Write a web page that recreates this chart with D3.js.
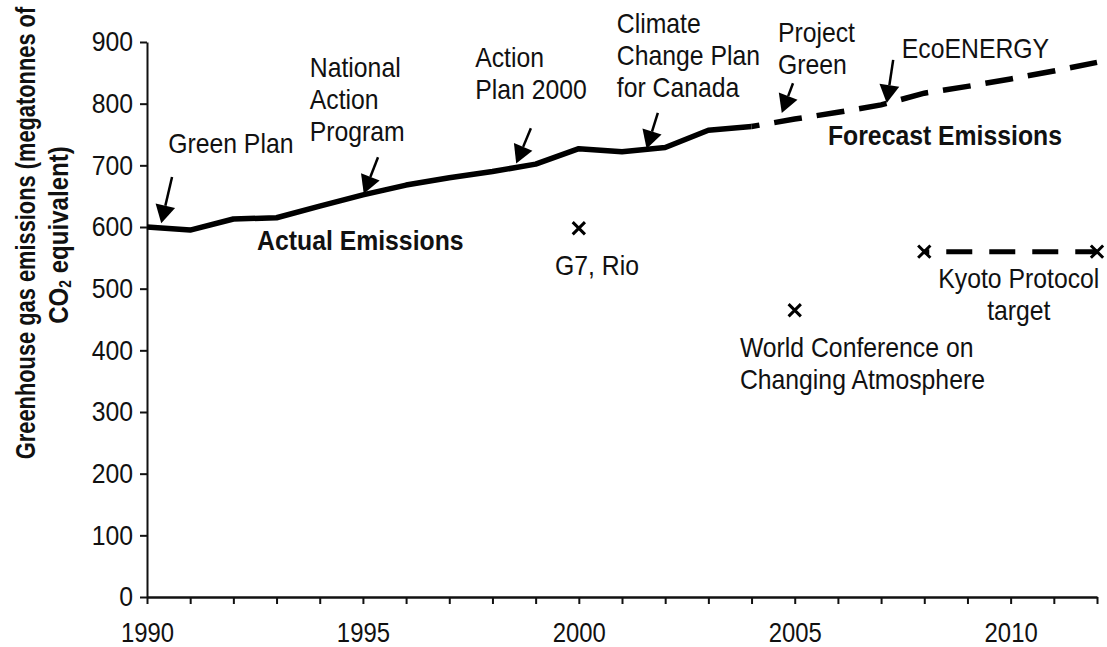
<!DOCTYPE html>
<html>
<head>
<meta charset="utf-8">
<script src="https://cdn.jsdelivr.net/npm/d3@7"></script>
<style>
  html, body { margin: 0; padding: 0; background: #fff; }
  svg { display: block; font-family: "Liberation Sans", Arial, sans-serif; }
</style>
</head>
<body>
<svg id="chart" width="1107" height="647"></svg>
<script>
// ---------- DATA ----------
const actualYears = [1990, 1991, 1992, 1993, 1994, 1995, 1996, 1997, 1998, 1999, 2000, 2001, 2002, 2003, 2004];
const actualValues = [600, 595, 613, 615, 634, 652, 668, 680, 690, 702, 727, 722, 729, 757, 763];

const forecastYears = [2004, 2005, 2006, 2007, 2008, 2009, 2010, 2011, 2012];
const forecastValues = [763, 775, 786, 798, 817, 828, 840, 853, 867];

const kyotoYears = [2008, 2012];
const kyotoValues = [560, 560];

const eventYears = [2000, 2005];
const eventValues = [598, 465];

const yTickValues = [0, 100, 200, 300, 400, 500, 600, 700, 800, 900];
const xTickValues = d3.range(1990, 2013);
const xTickLabels = [1990, 1995, 2000, 2005, 2010];

// arrows: tail and tip in data units [year, value]
const arrowNames = ["Green Plan", "National Action Program", "Action Plan 2000", "Climate Change Plan", "Project Green", "EcoENERGY"];
const arrowTails = [[1990.58, 681], [1995.35, 713], [1998.89, 760], [2001.83, 785], [2004.96, 833], [2007.28, 871]];
const arrowTips  = [[1990.33, 606], [1995.02, 654], [1998.55, 703], [2001.57, 727], [2004.70, 785], [2007.13, 801]];

// text annotations
const noteLines = [
  ["Green Plan"],
  ["National", "Action", "Program"],
  ["Action", "Plan 2000"],
  ["Climate", "Change Plan", "for Canada"],
  ["Project", "Green"],
  ["EcoENERGY"],
  ["Actual Emissions"],
  ["Forecast Emissions"],
  ["G7, Rio"],
  ["World Conference on", "Changing Atmosphere"],
  ["Kyoto Protocol", "target"]
];
const noteYears  = [1990.49, 1993.77, 1997.60, 2000.88, 2004.61, 2007.48, 1992.55, 2005.77, 2000.42, 2003.73, 2010.19];
const noteValues = [736, 859, 876, 931, 916, 890, 579, 749, 538, 405, 517];
const noteAnchor = ["start", "start", "start", "start", "start", "start", "start", "start", "middle", "start", "middle"];
const noteBold   = [false, false, false, false, false, false, true, true, false, false, false];

// ---------- CHART ----------
const FS = 28, SX = 0.885;   // condensed look of the original lettering
const svg = d3.select("#chart");
svg.append("rect").attr("width", 1107).attr("height", 647).attr("fill", "#fff");

const x = d3.scaleLinear().domain([1990, 2012]).range([147, 1097]);
const y = d3.scaleLinear().domain([0, 900]).range([597, 42]);

// Y axis
const yAxis = svg.append("g")
  .attr("transform", `translate(${x(1990)},0)`)
  .call(d3.axisLeft(y).tickValues(yTickValues).tickSize(7).tickSizeOuter(0).tickPadding(7));
yAxis.selectAll("text")
  .attr("font-size", FS).attr("fill", "#111").attr("font-family", "Liberation Sans, Arial, sans-serif")
  .attr("x", 0).attr("transform", `translate(-14,0) scale(${SX},1)`);
yAxis.selectAll("line").attr("stroke", "#111").attr("stroke-width", 2);
yAxis.select(".domain").attr("stroke", "#111").attr("stroke-width", 2);

// X axis
const xAxis = svg.append("g")
  .attr("transform", `translate(0,${y(0)})`)
  .call(d3.axisBottom(x).tickValues(xTickValues).tickSize(7).tickSizeOuter(0).tickPadding(19)
    .tickFormat(d => xTickLabels.includes(d) ? String(d) : ""));
xAxis.selectAll("text")
  .attr("font-size", 27).attr("fill", "#111").attr("font-family", "Liberation Sans, Arial, sans-serif")
  .attr("transform", `scale(${SX},1)`);
xAxis.selectAll("line").attr("stroke", "#111").attr("stroke-width", 2);
xAxis.select(".domain").attr("stroke", "#111").attr("stroke-width", 2.5);

// Y axis title (two lines, rotated)
svg.append("text")
  .attr("transform", `translate(35,233) rotate(-90) scale(0.78,1)`)
  .attr("text-anchor", "middle").attr("font-weight", "bold")
  .attr("font-size", 28).attr("fill", "#111")
  .text("Greenhouse gas emissions (megatonnes of");
const title2 = svg.append("text")
  .attr("transform", `translate(68,235) rotate(-90) scale(0.86,1)`)
  .attr("text-anchor", "middle").attr("font-weight", "bold")
  .attr("font-size", 28).attr("fill", "#111");
title2.append("tspan").text("CO");
title2.append("tspan").attr("font-size", 16).attr("dy", 3).text("2");
title2.append("tspan").attr("dy", -3).text(" equivalent)");

// Lines
const line = d3.line().x(d => x(d[0])).y(d => y(d[1]));
svg.append("path")
  .datum(actualYears.map((yr, i) => [yr, actualValues[i]]))
  .attr("d", line)
  .attr("fill", "none").attr("stroke", "#000").attr("stroke-width", 5.5)
  .attr("stroke-linejoin", "round");

svg.append("path")
  .datum(forecastYears.map((yr, i) => [yr, forecastValues[i]]))
  .attr("d", line)
  .attr("fill", "none").attr("stroke", "#000").attr("stroke-width", 5.5)
  .attr("stroke-dasharray", "28,15").attr("stroke-dashoffset", 20);

svg.append("path")
  .datum(kyotoYears.map((yr, i) => [yr, kyotoValues[i]]))
  .attr("d", line)
  .attr("fill", "none").attr("stroke", "#000").attr("stroke-width", 5)
  .attr("stroke-dasharray", "26,17").attr("stroke-dashoffset", 21);

// X markers
const markerPts = kyotoYears.map((yr, i) => [yr, kyotoValues[i]])
  .concat(eventYears.map((yr, i) => [yr, eventValues[i]]));
const cross = d3.symbol().type(d3.symbolX).size(100);
svg.selectAll(".mk").data(markerPts).join("path")
  .attr("class", "mk")
  .attr("transform", d => `translate(${x(d[0])},${y(d[1])})`)
  .attr("d", cross)
  .attr("fill", "none").attr("stroke", "#000").attr("stroke-width", 3);

// Arrows
arrowTails.forEach((tail, i) => {
  const tip = arrowTips[i];
  const x0 = x(tail[0]), y0 = y(tail[1]), x1 = x(tip[0]), y1 = y(tip[1]);
  const dx = x1 - x0, dy = y1 - y0, len = Math.hypot(dx, dy);
  const ux = dx / len, uy = dy / len;
  const hl = 18, hw = 10;
  const bx = x1 - ux * hl, by = y1 - uy * hl;
  svg.append("line").attr("x1", x0).attr("y1", y0).attr("x2", bx).attr("y2", by)
    .attr("stroke", "#000").attr("stroke-width", 2.5);
  svg.append("path")
    .attr("d", `M${x1},${y1}L${bx - uy * hw},${by + ux * hw}L${bx + uy * hw},${by - ux * hw}Z`)
    .attr("fill", "#000");
});

// Notes
noteLines.forEach((lines, i) => {
  lines.forEach((ln, j) => {
    svg.append("text")
      .attr("transform", `translate(${x(noteYears[i])},${y(noteValues[i]) + j * 32}) scale(${SX},1)`)
      .attr("text-anchor", noteAnchor[i])
      .attr("font-size", FS)
      .attr("font-weight", noteBold[i] ? "bold" : "normal")
      .attr("fill", "#111")
      .attr("dy", "0.36em")
      .text(ln);
  });
});
</script>
</body>
</html>
